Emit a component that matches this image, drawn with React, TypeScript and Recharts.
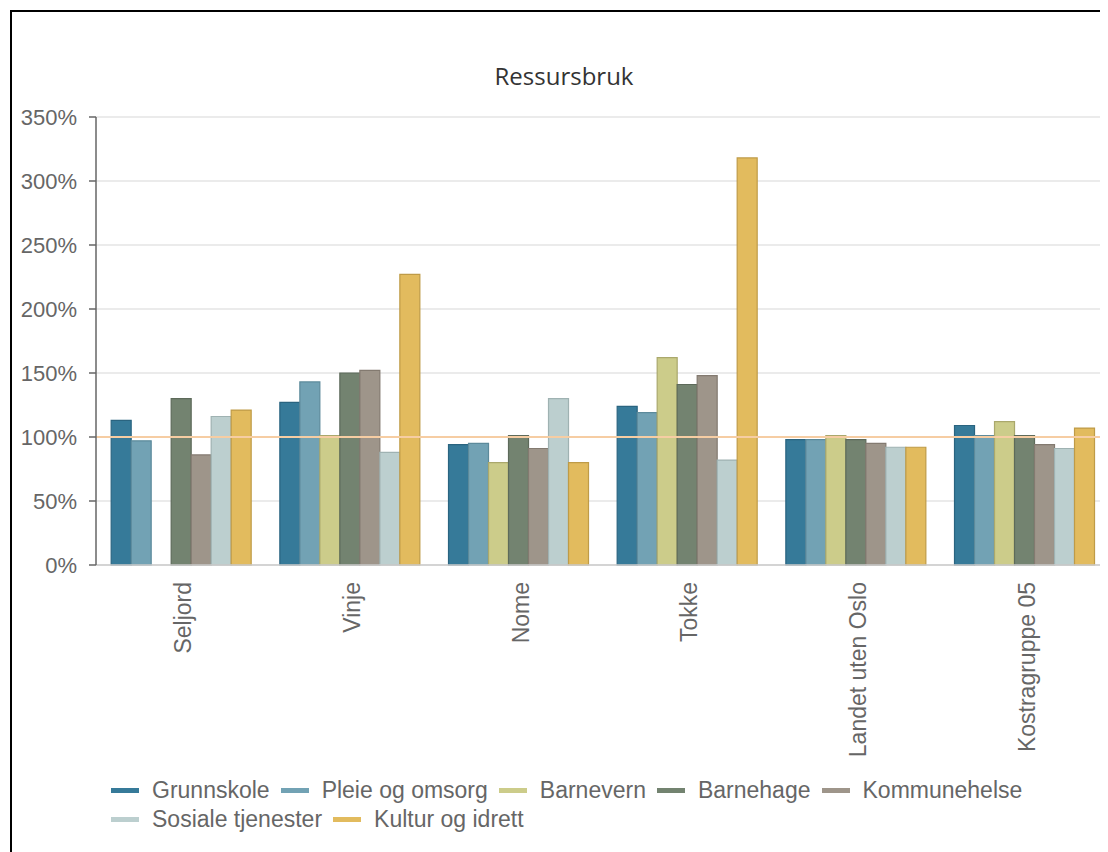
import React from "react";
import {
  BarChart,
  Bar,
  XAxis,
  YAxis,
  CartesianGrid,
  ReferenceLine,
  Legend,
} from "recharts";

const categories = ["Seljord", "Vinje", "Nome", "Tokke", "Landet uten Oslo", "Kostragruppe 05"];

const grunnskole = [113, 127, 94, 124, 98, 109];
const pleieOgOmsorg = [97, 143, 95, 119, 98, 101];
const barnevern = [0, 101, 80, 162, 101, 112];
const barnehage = [130, 150, 101, 141, 98, 101];
const kommunehelse = [86, 152, 91, 148, 95, 94];
const sosialeTjenester = [116, 88, 130, 82, 92, 91];
const kulturOgIdrett = [121, 227, 80, 318, 92, 107];

const yTicks = [0, 50, 100, 150, 200, 250, 300, 350];

const seriesNames = [
  "Grunnskole",
  "Pleie og omsorg",
  "Barnevern",
  "Barnehage",
  "Kommunehelse",
  "Sosiale tjenester",
  "Kultur og idrett",
];
const seriesValues = [
  grunnskole,
  pleieOgOmsorg,
  barnevern,
  barnehage,
  kommunehelse,
  sosialeTjenester,
  kulturOgIdrett,
];

const fills = ["#367a99", "#72a2b4", "#cccc8a", "#738370", "#9e958a", "#bccfcf", "#e2bb5e"];
const strokes = ["#2a6480", "#5c8a9b", "#aaa86c", "#5d6a5a", "#837a70", "#9fb2b2", "#bf9b47"];

const data = categories.map((name, i) => {
  const row: Record<string, string | number> = { name };
  seriesNames.forEach((s, j) => {
    row[s] = seriesValues[j][i];
  });
  return row;
});

// tick marks sit on the category boundaries, not the centres
const edgeTicks = [...categories.map((_, i) => i), categories.length];

const FONT = '"Liberation Sans", Arial, sans-serif';

function CategoryTick({ x, y, payload }: { x?: number; y?: number; payload?: { value: string } }) {
  return (
    <g transform={`translate(${x},${y})`}>
      <text
        transform="rotate(-90)"
        x={-17}
        y={11}
        textAnchor="end"
        fill="#666"
        fontSize={23}
        fontFamily={FONT}
      >
        {payload?.value}
      </text>
    </g>
  );
}

function LegendContent() {
  const rows = [seriesNames.slice(0, 5), seriesNames.slice(5)];
  return (
    <div style={{ paddingTop: 21, paddingLeft: 99, height: 59, fontFamily: FONT }}>
      {rows.map((row, r) => (
        <div key={r} style={{ display: "flex", alignItems: "center", height: 29 }}>
          {row.map((name) => {
            const j = seriesNames.indexOf(name);
            return (
              <div key={name} style={{ display: "flex", alignItems: "center", marginRight: 11 }}>
                <span
                  style={{
                    display: "inline-block",
                    width: 28,
                    height: 5,
                    background: fills[j],
                    marginRight: 13,
                  }}
                />
                <span style={{ fontSize: 23, color: "#666", whiteSpace: "nowrap" }}>{name}</span>
              </div>
            );
          })}
        </div>
      ))}
    </div>
  );
}

export default function App() {
  return (
    <div
      style={{
        position: "relative",
        left: 2,
        top: 2,
        width: 1100,
        height: 842,
        borderLeft: "2px solid #000",
        borderTop: "2px solid #000",
        fontFamily: FONT,
      }}
    >
      <div
        style={{
          position: "absolute",
          top: 52,
          left: 0,
          width: 1104,
          textAlign: "center",
          fontFamily: '"Open Sans", sans-serif',
          fontSize: 24,
          lineHeight: "24px",
          color: "#333",
        }}
      >
        Ressursbruk
      </div>
      <BarChart
        width={1096}
        height={823}
        data={data}
        margin={{ top: 105, right: 0, bottom: 0, left: 0 }}
        barCategoryGap="9%"
        barGap={0}
      >
        <CartesianGrid vertical={false} stroke="#e4e4e4" strokeWidth={1.5} />
        <XAxis
          xAxisId="edges"
          type="number"
          domain={[0, categories.length]}
          ticks={edgeTicks}
          allowDataOverflow
          tick={false}
          axisLine={false}
          tickLine={{ stroke: "#ccc", strokeWidth: 1.5 }}
          tickSize={7}
          height={0}
        />
        <XAxis
          dataKey="name"
          interval={0}
          tickLine={false}
          tickSize={0}
          tickMargin={0}
          axisLine={{ stroke: "#ccc", strokeWidth: 1.5 }}
          tick={<CategoryTick />}
          height={190}
        />
        <YAxis
          width={84}
          domain={[0, 350]}
          ticks={yTicks}
          tickFormatter={(v: number) => `${v}%`}
          axisLine={{ stroke: "#666", strokeWidth: 1.5 }}
          tickLine={{ stroke: "#666", strokeWidth: 1.5 }}
          tickSize={7}
          tickMargin={12}
          tick={{ fill: "#666", fontSize: 22, fontFamily: FONT }}
        />
        <ReferenceLine y={100} stroke="#f6cda3" strokeWidth={2} />
        {seriesNames.map((s, j) => (
          <Bar
            key={s}
            dataKey={s}
            name={s}
            fill={fills[j]}
            stroke={strokes[j]}
            strokeWidth={1.2}
            isAnimationActive={false}
          />
        ))}
        <Legend verticalAlign="bottom" content={<LegendContent />} />
      </BarChart>
    </div>
  );
}
